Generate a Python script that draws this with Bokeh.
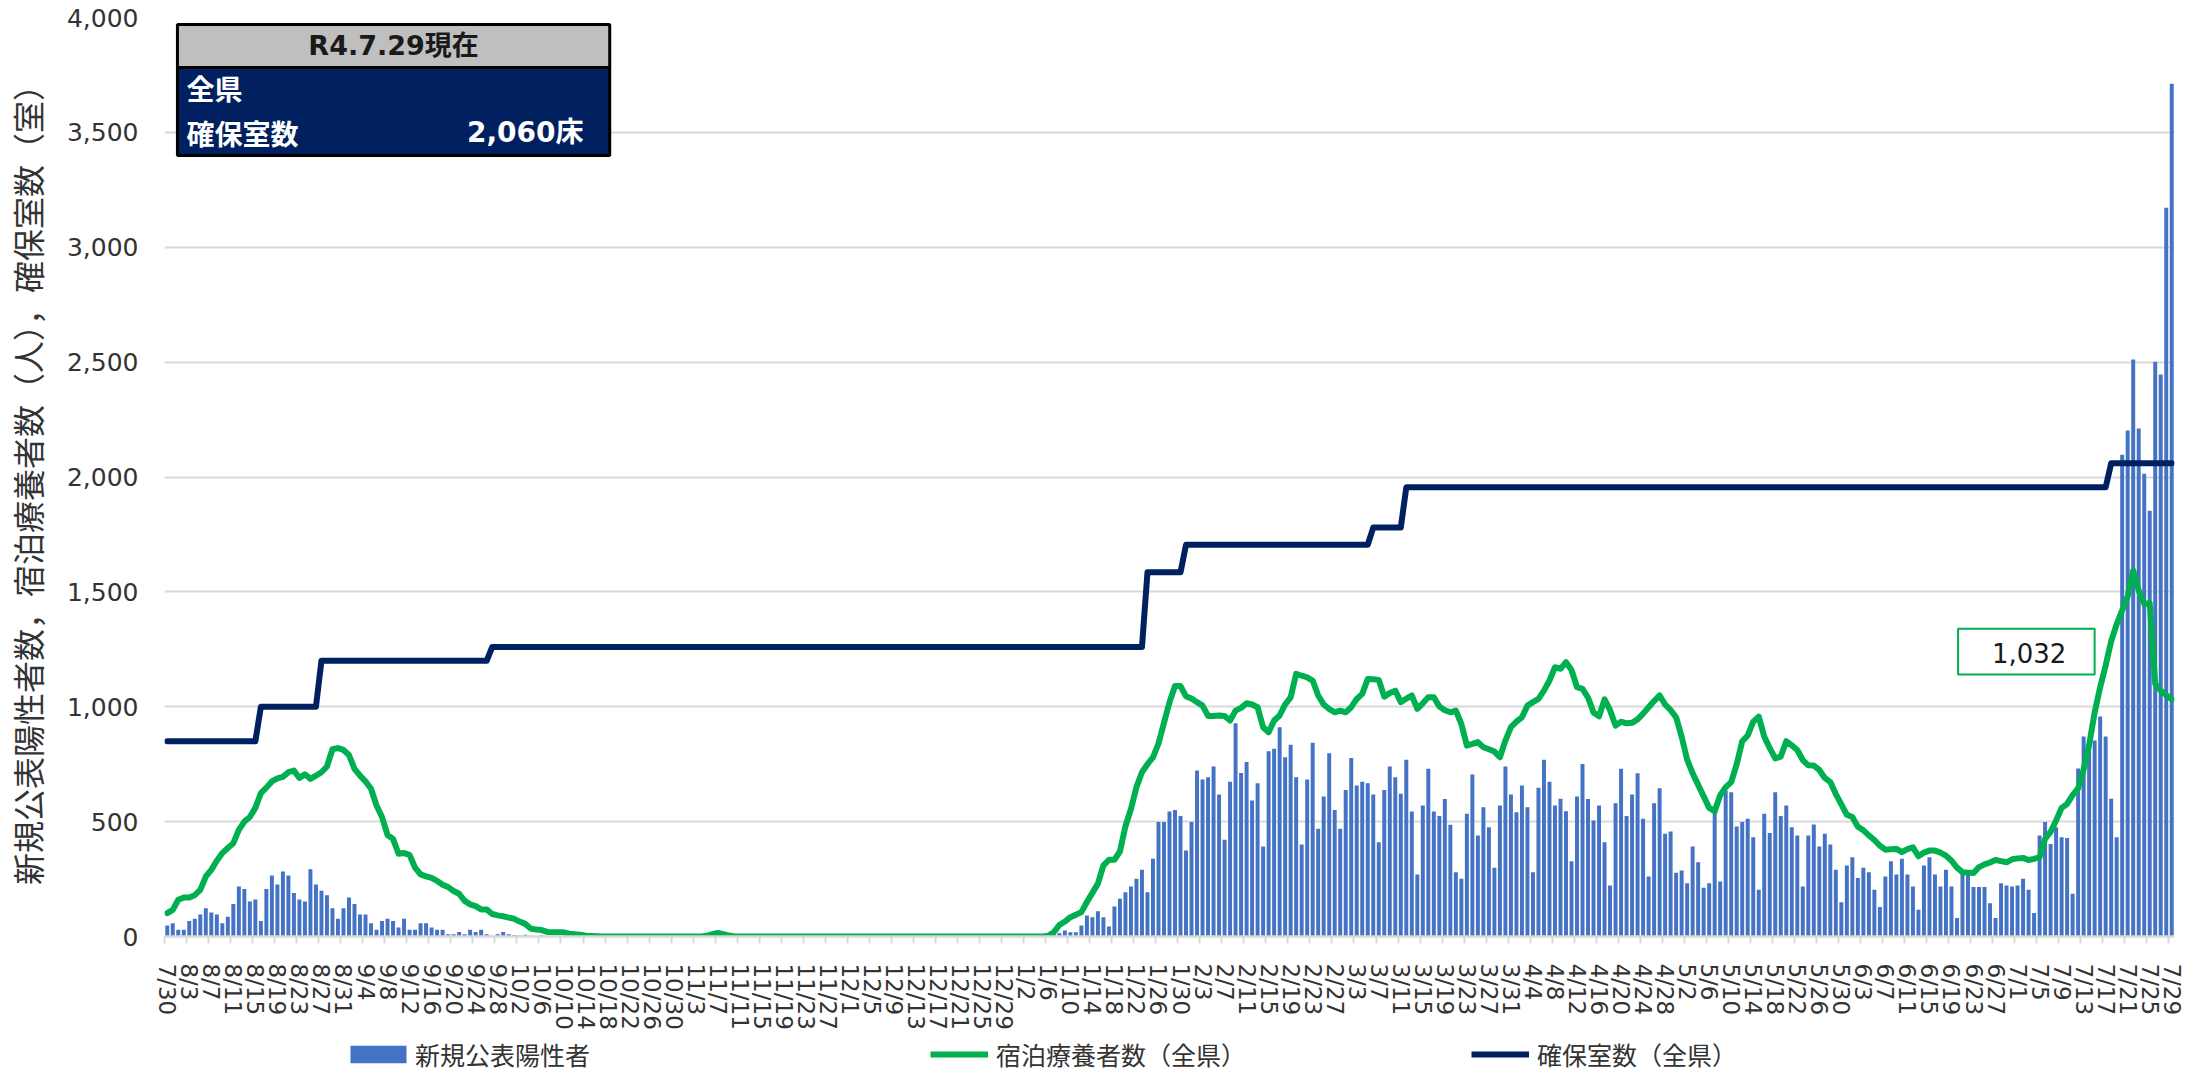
import datetime as dt
from bokeh.plotting import figure
from bokeh.layouts import column
from bokeh.models import (Range1d, FixedTicker, NumeralTickFormatter, BoxAnnotation,
                          Label, Legend, LegendItem)
from bokeh.embed import file_html
from bokeh.resources import INLINE

# ---------------- data ----------------
start = dt.date(2021, 7, 30)
dates = [start + dt.timedelta(days=k) for k in range(365)]
date_labels = [f"{d.month}/{d.day}" for d in dates]

# 新規公表陽性者 (daily new positives)
pos_2021_07 = [48, 58]
pos_2021_08 = [29, 29, 67, 77, 96, 123, 104, 96, 58, 86, 142, 218, 207, 152, 161, 67, 207, 265, 226, 283,
               265, 189, 161, 152, 293, 226, 199, 180, 123, 77, 123]
pos_2021_09 = [170, 142, 96, 96, 58, 29, 67, 77, 67, 39, 77, 29, 29, 58, 58, 39, 29, 29, 10, 10,
               20, 10, 29, 20, 29, 10, 3, 10, 20, 10]
pos_2021_10 = [6, 4, 8, 3, 2, 5, 1, 3, 2, 0, 1, 2, 0, 1, 0, 0, 1, 0, 0, 1,
               0, 0, 0, 1, 0, 0, 0, 0, 1, 0, 0]
pos_2021_11 = [0, 0, 1, 0, 0, 0, 2, 0, 0, 1, 0, 0, 0, 0, 0, 1, 0, 0, 0, 0,
               0, 0, 1, 0, 0, 0, 0, 0, 0, 0]
pos_2021_12 = [0, 0, 0, 0, 1, 0, 0, 0, 0, 0, 0, 0, 0, 0, 0, 0, 0, 1, 0, 0,
               0, 0, 0, 0, 0, 0, 0, 0, 0, 1, 1]
pos_2022_01 = [1, 3, 2, 4, 6, 10, 9, 14, 26, 19, 19, 48, 91, 84, 110, 84, 44, 131, 164, 193,
               218, 251, 290, 193, 338, 498, 498, 544, 551, 524, 374]
pos_2022_02 = [498, 722, 683, 693, 740, 618, 421, 674, 928, 712, 759, 592, 667, 392, 806, 817, 911, 780, 835, 693,
               400, 683, 843, 469, 609, 798, 551, 469]
pos_2022_03 = [638, 777, 657, 674, 667, 618, 410, 638, 740, 693, 621, 769, 544, 270, 570, 730, 544, 524, 599, 486,
               280, 251, 534, 705, 440, 563, 476, 299, 570, 740, 618]
pos_2022_04 = [541, 657, 563, 280, 647, 769, 674, 570, 600, 545, 328, 609, 751, 599, 505, 570, 410, 222, 580, 730,
               524, 618, 711, 512, 261, 580, 645, 447, 457, 277]
pos_2022_05 = [287, 232, 392, 323, 212, 232, 541, 239, 635, 628, 479, 498, 512, 432, 203, 534, 451, 628, 524, 570,
               476, 440, 218, 440, 487, 392, 447, 400, 290, 149, 309]
pos_2022_06 = [345, 255, 299, 280, 203, 128, 261, 328, 270, 338, 270, 218, 116, 309, 345, 270, 218, 290, 218, 81,
               280, 287, 215, 215, 215, 145, 81, 232, 222, 218]
pos_2022_07 = [222, 251, 203, 102, 440, 498, 403, 476, 432, 429, 186, 731, 871, 853, 853, 958, 871, 600, 432, 2097,
               2202, 2511, 2211, 2014, 1853, 2502, 2446, 3172, 3712]

# 宿泊療養者数（全県）
hotel_2021_07 = [102, 116]
hotel_2021_08 = [160, 170, 170, 180, 203, 261, 290, 330, 363, 385, 406, 464, 500, 520, 560, 624, 648, 675, 688, 695,
                 715, 722, 690, 706, 686, 700, 715, 740, 815, 820, 812]
hotel_2021_09 = [790, 730, 700, 675, 643, 570, 520, 442, 425, 360, 363, 355, 300, 270, 262, 255, 242, 225, 215, 198,
                 186, 155, 140, 132, 118, 118, 98, 92, 88, 82]
hotel_2021_10 = [77, 65, 55, 35, 30, 28, 20, 19, 19, 18, 12, 10, 8, 3, 2, 1, 0, 0, 0, 0,
                 0, 0, 0, 0, 0, 0, 0, 0, 0, 0, 0]
hotel_2021_11 = [0, 0, 0, 0, 3, 10, 15, 10, 4, 0, 0, 0, 0, 0, 0, 0, 0, 0, 0, 0,
                 0, 0, 0, 0, 0, 0, 0, 0, 0, 0]
hotel_2021_12 = [0, 0, 0, 0, 0, 0, 0, 0, 0, 0, 0, 0, 0, 0, 0, 0, 0, 0, 0, 0,
                 0, 0, 0, 0, 0, 0, 0, 0, 0, 0, 0]
hotel_2022_01 = [0, 0, 0, 0, 0, 3, 19, 50, 65, 84, 95, 106, 150, 190, 230, 310, 334, 334, 370, 480,
                 555, 650, 715, 750, 780, 840, 930, 1020, 1090, 1090, 1045]
hotel_2022_02 = [1036, 1020, 1005, 960, 960, 962, 960, 940, 983, 995, 1015, 1010, 998, 911, 889, 940, 962, 1010, 1041, 1143,
                 1135, 1128, 1114, 1049, 1010, 990, 976, 983]
hotel_2022_03 = [976, 998, 1034, 1056, 1121, 1120, 1117, 1044, 1060, 1070, 1020, 1035, 1049, 991, 1015, 1041, 1041, 1001, 985, 976,
                 983, 925, 831, 838, 846, 824, 815, 805, 780, 853, 911]
hotel_2022_04 = [935, 954, 1005, 1020, 1034, 1070, 1114, 1172, 1165, 1194, 1160, 1085, 1078, 1040, 975, 958, 1032, 985, 918, 935,
                 928, 930, 945, 970, 998, 1025, 1049, 1010, 985, 954]
hotel_2022_05 = [870, 770, 710, 660, 610, 560, 545, 615, 650, 672, 750, 850, 875, 935, 957, 870, 820, 775, 783, 850,
                 832, 812, 768, 745, 744, 725, 690, 672, 620, 575, 530]
hotel_2022_06 = [520, 478, 462, 440, 420, 395, 378, 380, 381, 367, 380, 388, 350, 365, 374, 374, 365, 352, 330, 300,
                 280, 278, 276, 302, 314, 322, 333, 328, 323, 336]
hotel_2022_07 = [340, 342, 333, 338, 345, 425, 455, 505, 560, 577, 615, 645, 728, 835, 975, 1085, 1180, 1285, 1360, 1420,
                 1480, 1593, 1506, 1448, 1450, 1100, 1070, 1050, 1032]

# 確保室数（全県）
rooms_2021_07 = [850, 850]
rooms_2021_08 = [850, 850, 850, 850, 850, 850, 850, 850, 850, 850, 850, 850, 850, 850, 850,
                 1000, 1000, 1000, 1000, 1000, 1000, 1000, 1000, 1000, 1000, 1000,
                 1200, 1200, 1200, 1200, 1200]
rooms_2021_09 = [1200, 1200, 1200, 1200, 1200, 1200, 1200, 1200, 1200, 1200, 1200, 1200, 1200, 1200, 1200, 1200,
                 1200, 1200, 1200, 1200, 1200, 1200, 1200, 1200, 1200, 1200, 1260, 1260, 1260, 1260]
rooms_2021_10 = [1260, 1260, 1260, 1260, 1260, 1260, 1260, 1260, 1260, 1260, 1260, 1260, 1260, 1260, 1260, 1260,
                 1260, 1260, 1260, 1260, 1260, 1260, 1260, 1260, 1260, 1260, 1260, 1260, 1260, 1260, 1260]
rooms_2021_11 = [1260, 1260, 1260, 1260, 1260, 1260, 1260, 1260, 1260, 1260, 1260, 1260, 1260, 1260, 1260, 1260,
                 1260, 1260, 1260, 1260, 1260, 1260, 1260, 1260, 1260, 1260, 1260, 1260, 1260, 1260]
rooms_2021_12 = [1260, 1260, 1260, 1260, 1260, 1260, 1260, 1260, 1260, 1260, 1260, 1260, 1260, 1260, 1260, 1260,
                 1260, 1260, 1260, 1260, 1260, 1260, 1260, 1260, 1260, 1260, 1260, 1260, 1260, 1260, 1260]
rooms_2022_01 = [1260, 1260, 1260, 1260, 1260, 1260, 1260, 1260, 1260, 1260, 1260, 1260, 1260, 1260, 1260, 1260,
                 1260, 1260, 1260, 1260, 1260, 1260, 1260, 1585, 1585, 1585, 1585, 1585, 1585, 1585, 1705]
rooms_2022_02 = [1705, 1705, 1705, 1705, 1705, 1705, 1705, 1705, 1705, 1705, 1705, 1705, 1705, 1705,
                 1705, 1705, 1705, 1705, 1705, 1705, 1705, 1705, 1705, 1705, 1705, 1705, 1705, 1705]
rooms_2022_03 = [1705, 1705, 1705, 1705, 1705, 1780, 1780, 1780, 1780, 1780, 1780,
                 1955, 1955, 1955, 1955, 1955, 1955, 1955, 1955, 1955, 1955, 1955, 1955, 1955, 1955, 1955,
                 1955, 1955, 1955, 1955, 1955]
rooms_2022_04 = [1955, 1955, 1955, 1955, 1955, 1955, 1955, 1955, 1955, 1955, 1955, 1955, 1955, 1955, 1955,
                 1955, 1955, 1955, 1955, 1955, 1955, 1955, 1955, 1955, 1955, 1955, 1955, 1955, 1955, 1955]
rooms_2022_05 = [1955, 1955, 1955, 1955, 1955, 1955, 1955, 1955, 1955, 1955, 1955, 1955, 1955, 1955, 1955, 1955,
                 1955, 1955, 1955, 1955, 1955, 1955, 1955, 1955, 1955, 1955, 1955, 1955, 1955, 1955, 1955]
rooms_2022_06 = [1955, 1955, 1955, 1955, 1955, 1955, 1955, 1955, 1955, 1955, 1955, 1955, 1955, 1955, 1955,
                 1955, 1955, 1955, 1955, 1955, 1955, 1955, 1955, 1955, 1955, 1955, 1955, 1955, 1955, 1955]
rooms_2022_07 = [1955, 1955, 1955, 1955, 1955, 1955, 1955, 1955, 1955, 1955, 1955, 1955, 1955, 1955, 1955, 1955, 1955,
                 2060, 2060, 2060, 2060, 2060, 2060, 2060, 2060, 2060, 2060, 2060, 2060]

positives = (pos_2021_07 + pos_2021_08 + pos_2021_09 + pos_2021_10 + pos_2021_11 + pos_2021_12 +
             pos_2022_01 + pos_2022_02 + pos_2022_03 + pos_2022_04 + pos_2022_05 + pos_2022_06 + pos_2022_07)
hotel = (hotel_2021_07 + hotel_2021_08 + hotel_2021_09 + hotel_2021_10 + hotel_2021_11 + hotel_2021_12 +
         hotel_2022_01 + hotel_2022_02 + hotel_2022_03 + hotel_2022_04 + hotel_2022_05 + hotel_2022_06 + hotel_2022_07)
rooms = (rooms_2021_07 + rooms_2021_08 + rooms_2021_09 + rooms_2021_10 + rooms_2021_11 + rooms_2021_12 +
         rooms_2022_01 + rooms_2022_02 + rooms_2022_03 + rooms_2022_04 + rooms_2022_05 + rooms_2022_06 + rooms_2022_07)

series_names = ["新規公表陽性者", "宿泊療養者数（全県）", "確保室数（全県）"]
y_title = "新規公表陽性者数，宿泊療養者数（人），確保室数（室）"
y_ticks = [0, 500, 1000, 1500, 2000, 2500, 3000, 3500, 4000]
info_header = "R4.7.29現在"
info_area = "全県"
info_key = "確保室数"
info_value = "2,060床"
last_label = "1,032"

x = list(range(len(dates)))
label_every = 4

# ---------------- styles ----------------
JP = "Noto Sans CJK JP"
NUM = "DejaVu Sans"
MIX = "'DejaVu Sans', 'Noto Sans CJK JP'"
TXT = "#333333"
C_BAR, C_GREEN, C_NAVY = "#4472C4", "#00B050", "#002060"

W = 2200
H_MAIN = 1036
H_LEG = 36
FRAME_LEFT, FRAME_RIGHT, FRAME_TOP, FRAME_BOTTOM = 156, 2174, 17, 936

p = figure(width=W, height=H_MAIN, output_backend="svg", toolbar_location=None,
           x_range=Range1d(-0.5, len(dates) - 0.5), y_range=Range1d(0, 4000),
           min_border_left=FRAME_LEFT, min_border_right=W - FRAME_RIGHT,
           min_border_top=FRAME_TOP, min_border_bottom=H_MAIN - FRAME_BOTTOM)
p.outline_line_color = None
p.background_fill_color = "white"
p.border_fill_color = "white"

r_bar = p.vbar(x=x, top=positives, width=0.72, fill_color=C_BAR, line_color=None)
r_green = p.line(x, hotel, line_color=C_GREEN, line_width=6, line_join="round", line_cap="round")
r_navy = p.line(x, rooms, line_color=C_NAVY, line_width=6, line_join="round", line_cap="round")

# x axis
major = list(range(0, len(dates), label_every))
minor = [m - 0.5 for m in major]
p.xaxis.ticker = FixedTicker(ticks=major, minor_ticks=minor)
p.xaxis.major_label_overrides = {i: date_labels[i] for i in major}
p.xaxis.major_label_orientation = "vertical"
p.xaxis.major_label_text_font = NUM
p.xaxis.major_label_text_font_size = "23px"
p.xaxis.major_label_text_color = TXT
p.xaxis.major_label_standoff = 20
p.xaxis.major_tick_out = 0
p.xaxis.major_tick_in = 0
p.xaxis.minor_tick_out = 7
p.xaxis.minor_tick_in = 0
p.xaxis.minor_tick_line_color = "#D9D9D9"
p.xaxis.minor_tick_line_width = 2
p.xaxis.axis_line_color = "#D9D9D9"
p.xaxis.axis_line_width = 2.5
p.xgrid.grid_line_color = None

# y axis
p.yaxis.ticker = FixedTicker(ticks=y_ticks)
p.yaxis.formatter = NumeralTickFormatter(format="0,0")
p.yaxis.major_label_text_font = NUM
p.yaxis.major_label_text_font_size = "25px"
p.yaxis.major_label_text_color = TXT
p.yaxis.major_label_standoff = 26
p.yaxis.major_tick_out = 0
p.yaxis.major_tick_in = 0
p.yaxis.minor_tick_line_color = None
p.yaxis.axis_line_color = None
p.yaxis.axis_label = y_title
p.yaxis.axis_label_text_font = JP
p.yaxis.axis_label_text_font_style = "normal"
p.yaxis.axis_label_text_font_size = "32px"
p.yaxis.axis_label_text_color = TXT
p.yaxis.axis_label_standoff = 14
p.ygrid.grid_line_color = "#D9D9D9"
p.ygrid.grid_line_width = 2

# info box (top-left)
p.add_layout(BoxAnnotation(left=1.85, right=80.35, top=3969, bottom=3782, fill_color="#BFBFBF",
                           fill_alpha=1, line_color="black", line_width=3, line_alpha=1))
p.add_layout(BoxAnnotation(left=1.85, right=80.35, top=3782, bottom=3399, fill_color=C_NAVY,
                           fill_alpha=1, line_color="black", line_width=3, line_alpha=1))
p.add_layout(Label(x=41.1, y=3878, text=info_header, text_align="center", text_baseline="middle",
                   text_font=MIX, text_font_style="bold", text_font_size="27px", text_color="#1a1a1a"))
p.add_layout(Label(x=3.5, y=3691, text=info_area, text_align="left", text_baseline="middle",
                   text_font=JP, text_font_style="bold", text_font_size="28px", text_color="white"))
p.add_layout(Label(x=3.5, y=3499, text=info_key, text_align="left", text_baseline="middle",
                   text_font=JP, text_font_style="bold", text_font_size="28px", text_color="white"))
p.add_layout(Label(x=75.6, y=3499, text=info_value, text_align="right", text_baseline="middle",
                   text_font=MIX, text_font_style="bold", text_font_size="28px", text_color="white"))

# data label for last hotel value
p.add_layout(BoxAnnotation(left=325.2, right=350.0, top=1340, bottom=1140, fill_color="white",
                           fill_alpha=1, line_color=C_GREEN, line_width=2, line_alpha=1))
p.add_layout(Label(x=338.1, y=1236, text=last_label, text_align="center", text_baseline="middle",
                   text_font=NUM, text_font_size="26px", text_color="#1a1a1a"))

# ---------------- legend strip ----------------
# (its frame is aligned with the main frame by the column layout, so offsets are from FRAME_LEFT)
pl = figure(width=W, height=H_LEG, output_backend="svg", toolbar_location=None,
            x_range=Range1d(0, 1), y_range=Range1d(0, 1), min_border=0,
            x_axis_location=None, y_axis_location=None)
pl.outline_line_color = None
pl.grid.visible = False
# legend proxies: one point each, placed outside the visible range
lb = pl.vbar(x=[5], top=[5], bottom=[4], width=0.5, fill_color=C_BAR, line_color=None)
lg = pl.line(x=[5, 6], y=[5, 5], line_color=C_GREEN, line_width=6)
ln = pl.line(x=[5, 6], y=[5, 5], line_color=C_NAVY, line_width=6)


def make_legend(label, r, sx, gw, standoff):
    leg = Legend(items=[LegendItem(label=label, renderers=[r])], location=(sx - FRAME_LEFT, 0),
                 orientation="horizontal", glyph_width=gw, glyph_height=22, label_standoff=standoff,
                 label_height=25, label_text_font=JP, label_text_font_size="25px", label_text_color=TXT,
                 label_text_baseline="middle",
                 border_line_color=None, background_fill_alpha=0, padding=0, margin=0, spacing=0)
    pl.add_layout(leg, "center")


make_legend(series_names[0], lb, 335, 70, 2)
make_legend(series_names[1], lg, 922, 58, 8)
make_legend(series_names[2], ln, 1463, 58, 8)

layout = column(p, pl, spacing=0)
open("out.html", "w").write(file_html(layout, INLINE))
